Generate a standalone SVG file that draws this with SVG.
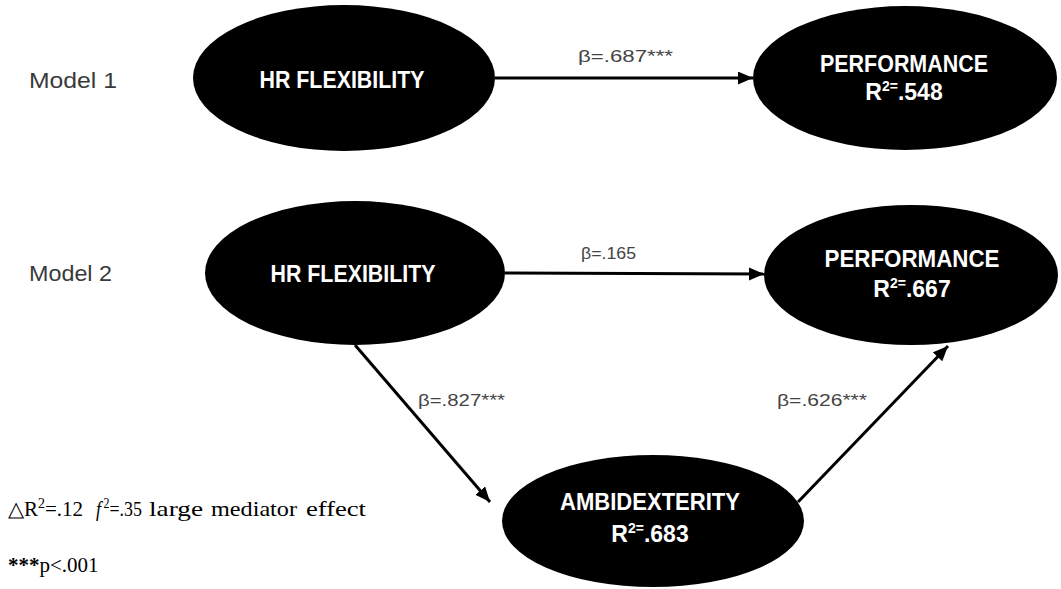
<svg xmlns="http://www.w3.org/2000/svg" width="1061" height="589" viewBox="0 0 1061 589">
  <style>
    .node ellipse { fill: #000; }
    .nt { font-family: "Liberation Sans", Arial, sans-serif; font-weight: bold; font-size: 23px; fill: #fff; text-anchor: middle; }
    .sup { font-size: 14px; }
    .model { font-family: "Liberation Sans", Arial, sans-serif; font-size: 22px; fill: #3a3a3a; }
    .el { font-family: "Liberation Sans", Arial, sans-serif; font-size: 17px; fill: #444; }
    .conn line { stroke: #000; stroke-width: 3; fill: none; }
    .legend { font-family: "Liberation Serif", "Times New Roman", serif; font-size: 21px; fill: #000; }
  </style>
  <defs>
    <marker id="arrow" markerUnits="userSpaceOnUse" markerWidth="16" markerHeight="14" refX="15" refY="6.5" orient="auto">
      <path d="M0,0 L15,6.5 L0,13 z" fill="#000"/>
    </marker>
  </defs>
  <rect width="1061" height="589" fill="#fff"/>

  <text class="model" x="29" y="88" textLength="88" lengthAdjust="spacingAndGlyphs">Model 1</text>
  <text class="model" x="29" y="281" textLength="83" lengthAdjust="spacingAndGlyphs">Model 2</text>

  <g class="conn" id="connectors">
    <line x1="495" y1="78" x2="753" y2="78" marker-end="url(#arrow)"/>
    <line x1="505" y1="273" x2="764" y2="274" marker-end="url(#arrow)"/>
    <line x1="355" y1="345" x2="490" y2="502" marker-end="url(#arrow)"/>
    <line x1="798" y1="502" x2="948" y2="346" marker-end="url(#arrow)"/>
    <text class="el" x="578" y="62" textLength="95" lengthAdjust="spacingAndGlyphs">β=.687***</text>
    <text class="el" x="581" y="259" textLength="55" lengthAdjust="spacingAndGlyphs">β=.165</text>
    <text class="el" x="418" y="406" textLength="87" lengthAdjust="spacingAndGlyphs">β=.827***</text>
    <text class="el" x="777" y="406" textLength="90" lengthAdjust="spacingAndGlyphs">β=.626***</text>
  </g>

  <g class="node" id="m1-hrflex">
    <ellipse cx="344" cy="78" rx="151" ry="73"/>
    <text class="nt" x="342" y="88" textLength="165" lengthAdjust="spacingAndGlyphs">HR FLEXIBILITY</text>
  </g>
  <g class="node" id="m1-performance">
    <ellipse cx="905" cy="78" rx="152" ry="72"/>
    <text class="nt" x="904" y="72" textLength="168" lengthAdjust="spacingAndGlyphs">PERFORMANCE</text>
    <text class="nt" x="904" y="100">R<tspan class="sup" dy="-9">2=</tspan><tspan dy="9">.548</tspan></text>
  </g>
  <g class="node" id="m2-hrflex">
    <ellipse cx="355" cy="273" rx="150" ry="72"/>
    <text class="nt" x="353" y="282" textLength="165" lengthAdjust="spacingAndGlyphs">HR FLEXIBILITY</text>
  </g>
  <g class="node" id="m2-performance">
    <ellipse cx="911" cy="275" rx="147" ry="70"/>
    <text class="nt" x="912" y="267" textLength="175" lengthAdjust="spacingAndGlyphs">PERFORMANCE</text>
    <text class="nt" x="912" y="297">R<tspan class="sup" dy="-9">2=</tspan><tspan dy="9">.667</tspan></text>
  </g>
  <g class="node" id="m2-ambidexterity">
    <ellipse cx="653" cy="521" rx="151" ry="66"/>
    <text class="nt" x="650" y="510" textLength="180" lengthAdjust="spacingAndGlyphs">AMBIDEXTERITY</text>
    <text class="nt" x="650" y="542">R<tspan class="sup" dy="-9">2=</tspan><tspan dy="9">.683</tspan></text>
  </g>

  <g id="legend">
    <text class="legend" x="8" y="516">△R<tspan font-size="14" dy="-8">2</tspan><tspan dy="8">=.12</tspan></text>
    <text class="legend" x="96" y="516" textLength="46" lengthAdjust="spacingAndGlyphs"><tspan font-style="italic">f</tspan><tspan font-size="14" dx="3" dy="-8">2</tspan><tspan dy="8">=.35</tspan></text>
    <text class="legend" x="149" y="516" textLength="54" lengthAdjust="spacingAndGlyphs">large</text>
    <text class="legend" x="211" y="516" textLength="86" lengthAdjust="spacingAndGlyphs">mediator</text>
    <text class="legend" x="306" y="516" textLength="60" lengthAdjust="spacingAndGlyphs">effect</text>
    <text class="legend" x="8" y="572"><tspan font-weight="bold">***</tspan>p&lt;.001</text>
  </g>
</svg>
